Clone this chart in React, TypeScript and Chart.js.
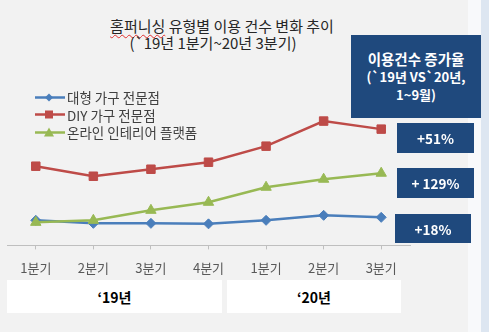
import React, { useEffect, useRef } from "react";
import { Chart, registerables } from "chart.js";

Chart.register(...registerables);

const categories = ["1분기", "2분기", "3분기", "4분기", "1분기", "2분기", "3분기"];
const largeStore = [25, 22, 22, 21.5, 25, 30, 28];
const diyStore = [79, 69, 76, 83, 99, 124, 116];
const onlinePlatform = [23, 25, 35, 43, 58, 66, 72];
const seriesNames = ["대형 가구 전문점", "DIY 가구 전문점", "온라인 인테리어 플랫폼"];
const growthLabels = ["+51%", "+ 129%", "+18%"];
const yearLabels = ["‘19년", "‘20년"];

const BLUE = "#4a7ebb";
const RED = "#be4b48";
const GREEN = "#98b954";
const NAVY = "#1f497d";
const FONT = "'Noto Sans CJK KR', 'Noto Sans', sans-serif";

function LegendRow({ top, color, shape, label }: { top: number; color: string; shape: string; label: string }) {
  let marker: React.ReactNode = null;
  if (shape === "diamond") marker = <polygon points="14,1.5 18,5.5 14,9.5 10,5.5" fill={color} />;
  if (shape === "square") marker = <rect x={10} y={1.5} width={8} height={8} fill={color} />;
  if (shape === "triangle") marker = <polygon points="14,0.5 19,9.5 9,9.5" fill={color} />;
  return (
    <div style={{ position: "absolute", left: 35, top: top - 9, height: 18, display: "flex", alignItems: "center" }}>
      <svg width={30} height={11} style={{ display: "block" }}>
        <line x1={0} y1={5.5} x2={30} y2={5.5} stroke={color} strokeWidth={2.5} />
        {marker}
      </svg>
      <span style={{ marginLeft: 2, fontSize: 13.5, color: "#404040", fontFamily: FONT, whiteSpace: "nowrap", lineHeight: "18px" }}>{label}</span>
    </div>
  );
}

export default function App() {
  const canvasRef = useRef<HTMLCanvasElement | null>(null);

  useEffect(() => {
    const prevMargin = document.body.style.margin;
    document.body.style.margin = "0";
    const ctx = canvasRef.current;
    if (!ctx) return;
    const chart = new Chart(ctx, {
      type: "line",
      data: {
        labels: categories,
        datasets: [
          {
            label: seriesNames[0],
            data: largeStore,
            borderColor: BLUE,
            backgroundColor: BLUE,
            borderWidth: 2.5,
            pointStyle: "rectRot",
            pointRadius: 5,
            pointBorderWidth: 1,
            tension: 0,
            order: 2,
          },
          {
            label: seriesNames[1],
            data: diyStore,
            borderColor: RED,
            backgroundColor: RED,
            borderWidth: 2.5,
            pointStyle: "rect",
            pointRadius: 6,
            pointBorderWidth: 1,
            tension: 0,
            order: 1,
          },
          {
            label: seriesNames[2],
            data: onlinePlatform,
            borderColor: GREEN,
            backgroundColor: GREEN,
            borderWidth: 2.5,
            pointStyle: "triangle",
            pointRadius: 6,
            pointBorderWidth: 1,
            tension: 0,
            order: 0,
          },
        ],
      },
      options: {
        responsive: false,
        animation: false,
        layout: { padding: { left: 1, right: 10, top: 20, bottom: 0 } },
        plugins: { legend: { display: false }, tooltip: { enabled: false }, title: { display: false } },
        scales: {
          x: {
            offset: true,
            grid: { display: true, drawOnChartArea: false, drawTicks: true, tickLength: 4, color: "#bfbfbf" },
            border: { display: true, color: "#bfbfbf", width: 1 },
            ticks: { color: "#595959", font: { family: FONT, size: 13 }, padding: 11, autoSkip: false, maxRotation: 0 },
          },
          y: {
            display: false,
            min: 0,
            max: 165,
          },
        },
      },
    });
    return () => {
      chart.destroy();
      document.body.style.margin = prevMargin;
    };
  }, []);

  const boxText: React.CSSProperties = {
    position: "absolute",
    background: NAVY,
    color: "#ffffff",
    fontFamily: FONT,
    fontWeight: 700,
    display: "flex",
    alignItems: "center",
    justifyContent: "center",
    whiteSpace: "nowrap",
  };

  return (
    <div style={{ position: "fixed", left: 0, top: 0, width: 489, height: 332, background: "#f2f2f2", overflow: "hidden" }}>
      <div style={{ position: "absolute", left: 468, top: 0, width: 13, height: 332, background: "#f8f9fb" }} />
      <div style={{ position: "absolute", left: 481, top: 0, width: 8, height: 332, background: "#dde6f1" }} />

      <div style={{ position: "absolute", left: 0, top: 17, width: 444, textAlign: "center", fontFamily: FONT, fontSize: 15, color: "#262626", lineHeight: "17px", whiteSpace: "nowrap" }}>
        <span style={{ textDecoration: "underline wavy #e03030", textDecorationThickness: 1, textUnderlineOffset: 2 }}>홈퍼니싱</span> 유형별 이용 건수 변화 추이
      </div>
      <div style={{ position: "absolute", left: 0, top: 34, width: 426, textAlign: "center", fontFamily: FONT, fontSize: 15, color: "#262626", lineHeight: "17px", whiteSpace: "nowrap" }}>
        (`19년 1분기~20년 3분기)
      </div>

      <div style={{ position: "absolute", left: 0, top: 60, width: 420, height: 227 }}>
        <canvas ref={canvasRef} width={420} height={227} style={{ width: 420, height: 227, display: "block" }} />
      </div>

      <LegendRow top={97} color={BLUE} shape="diamond" label={seriesNames[0]} />
      <LegendRow top={114.5} color={RED} shape="square" label={seriesNames[1]} />
      <LegendRow top={132} color={GREEN} shape="triangle" label={seriesNames[2]} />

      <div style={{ position: "absolute", left: 7, top: 280, width: 215, height: 33, background: "#ffffff", display: "flex", alignItems: "center", justifyContent: "center", fontFamily: FONT, fontWeight: 700, fontSize: 14, color: "#000" }}>{yearLabels[0]}</div>
      <div style={{ position: "absolute", left: 227, top: 280, width: 174, height: 33, background: "#ffffff", display: "flex", alignItems: "center", justifyContent: "center", fontFamily: FONT, fontWeight: 700, fontSize: 14, color: "#000" }}>{yearLabels[1]}</div>

      <div style={{ ...boxText, left: 351, top: 35, width: 130, height: 83, flexDirection: "column", fontSize: 14, lineHeight: "18px" }}>
        <div style={{ fontSize: 14.5 }}>이용건수 증가율</div>
        <div style={{ fontSize: 13 }}>(`19년 VS`20년,</div>
        <div style={{ fontSize: 13 }}>1~9월)</div>
      </div>

      <div style={{ ...boxText, left: 397, top: 123, width: 77, height: 30, fontSize: 13.5 }}>{growthLabels[0]}</div>
      <div style={{ ...boxText, left: 397, top: 168, width: 77, height: 30, fontSize: 13.5 }}>{growthLabels[1]}</div>
      <div style={{ ...boxText, left: 395, top: 214, width: 76, height: 29, fontSize: 13.5 }}>{growthLabels[2]}</div>
    </div>
  );
}
